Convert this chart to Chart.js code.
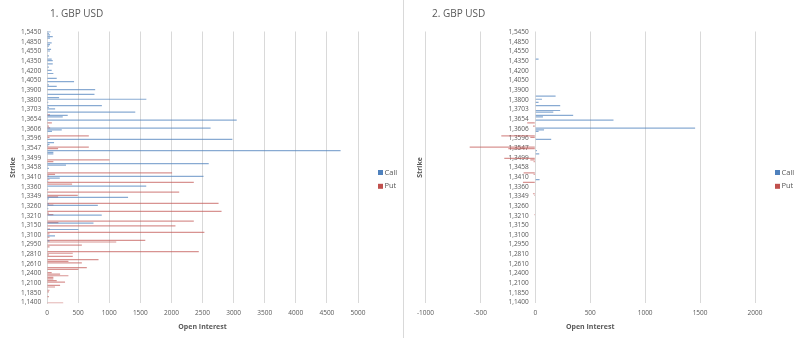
<!DOCTYPE html>
<html>
<head>
<meta charset="utf-8">
<script src="https://cdn.jsdelivr.net/npm/chart.js@4.4.0/dist/chart.umd.min.js"></script>
<style>
  html, body { margin: 0; padding: 0; background: #fff; }
  #wrap { position: relative; width: 800px; height: 338px; }
  .panel { position: absolute; top: 0; height: 338px; box-sizing: border-box; }
  #p1 { left: 0; width: 403px; }
  #p2 { left: 403px; width: 397px; border-left: 1px solid #d9d9d9; }
</style>
</head>
<body>
<div id="wrap">
  <div class="panel" id="p1"><canvas id="c1"></canvas></div>
  <div class="panel" id="p2"><canvas id="c2"></canvas></div>
</div>
<script>
// Strikes printed on the axis (top to bottom); 5 unlabeled strikes sit between each pair
const strikes = ['1,5450','1,4850','1,4550','1,4350','1,4200','1,4050','1,3900','1,3800','1,3703','1,3654',
  '1,3606','1,3596','1,3547','1,3499','1,3458','1,3410','1,3360','1,3349','1,3260','1,3210',
  '1,3150','1,3100','1,2950','1,2810','1,2610','1,2400','1,2100','1,1850','1,1400'];
const STEP = 6;

// 1. GBP USD - open interest, one row per line starting at a labeled strike
const call1 = [
  59,30,48,92,48,0,      0,75,48,30,0,65,      48,0,0,30,0,75,       92,0,92,0,30,0,
  75,0,102,0,0,156,      0,435,0,30,156,0,     774,0,0,763,0,194,    1597,0,20,0,882,30,
  130,0,1419,0,333,253,  0,3050,0,0,0,0,       2630,237,80,0,0,0,    0,2980,0,113,40,20,
  0,0,4720,102,102,0,    0,0,0,0,2600,305,     0,30,0,0,0,0,         2516,205,0,20,0,0,
  1595,0,20,0,0,0,       0,1303,30,0,0,30,     817,0,20,0,0,0,       880,0,0,0,0,747,
  0,0,0,505,0,0,         0,129,0,0,40,0,       0,0,0,0,0,0,          0,0,0,0,0,0,
  0,0,0,0,0,0,           0,0,0,0,0,0,          0,0,0,0,0,0,          0,0,0,0,0,0,
  0
];
const put1 = [
  0,0,0,0,0,0,           0,0,0,0,0,0,          0,0,0,0,0,0,          0,0,0,0,0,0,
  0,0,0,0,0,0,           0,0,0,0,0,0,          0,0,0,0,0,0,          0,0,0,0,0,0,
  0,0,0,48,0,0,          0,0,78,0,30,50,       0,0,0,0,672,40,       0,0,0,0,0,672,
  178,0,0,0,0,0,         0,1005,102,0,0,0,     0,0,0,2011,129,30,    0,40,0,2360,403,0,
  0,0,0,2125,0,495,      178,0,0,0,2758,102,   0,0,0,2806,30,102,    0,0,0,2360,183,0,
  2065,0,48,0,2530,40,   0,40,0,1580,1113,0,   560,40,0,0,2440,414,  30,414,0,828,344,560,
  0,0,640,505,0,75,      210,344,102,102,156,290, 0,210,129,0,40,30, 0,0,30,0,0,0,
  260
];

// 2. GBP USD - puts plotted as negative values
const call2 = [
  0,0,0,0,0,0,           0,0,0,0,0,0,          0,0,0,0,0,30,         0,0,0,0,0,0,
  0,0,0,0,0,0,           0,0,0,0,0,0,          0,0,0,0,185,0,        61,0,30,0,227,0,
  0,227,164,0,345,70,    0,712,0,0,0,0,        1455,80,30,0,0,0,     0,145,0,0,0,0,
  0,0,15,0,36,0,         0,0,0,0,0,0,          0,0,0,0,0,0,          0,0,39,0,0,0,
  0,0,0,0,0,0,           0,0,0,0,0,0,          0,0,0,0,0,0,          0,0,0,0,0,0,
  0,0,0,0,0,0,           0,0,0,0,0,0,          0,0,0,0,0,0,          0,0,0,0,0,0,
  0,0,0,0,0,0,           0,0,0,0,0,0,          0,0,0,0,0,0,          0,0,0,0,0,0,
  0
];
const put2 = [
  0,0,0,0,0,0,           0,0,0,0,0,0,          0,0,0,0,0,0,          0,0,0,0,0,0,
  0,0,0,0,0,0,           0,0,0,0,0,0,          0,0,0,0,0,0,          0,0,0,0,0,0,
  0,0,0,0,0,0,           0,0,-73,0,-20,0,      0,0,0,0,-309,-45,     0,0,0,0,0,-597,
  -245,0,0,0,0,0,        -282,-45,-15,0,0,0,   0,0,0,-106,-15,0,     0,0,0,-112,0,0,
  0,0,0,0,-21,-9,        0,0,0,0,0,0,          0,0,0,0,0,-9,         0,0,0,0,0,0,
  0,0,0,0,0,0,           0,0,0,0,0,0,          0,0,0,0,0,0,          0,0,0,0,0,0,
  0,0,0,0,0,0,           0,0,0,0,0,0,          0,0,0,0,0,0,          0,0,0,0,0,0,
  0
];

const categories = [];
strikes.forEach((s, i) => {
  categories.push(s);
  if (i < strikes.length - 1) for (let j = 1; j < STEP; j++) categories.push('');
});

const CALL_COLOR = '#4F81BD';
const PUT_COLOR = '#C0504D';
const TEXT = '#595959';
const GRID = '#d9d9d9';
const FONT = '"Open Sans", sans-serif';

// Panel title + legend drawn beside the plot, like the Excel sheet
const panelText = {
  id: 'panelText',
  afterDraw(chart, args, opts) {
    const { ctx, chartArea } = chart;
    ctx.save();
    ctx.textBaseline = 'middle';
    ctx.fillStyle = TEXT;
    ctx.font = '10px ' + FONT;
    ctx.fillText(opts.title, opts.titleX, 14.5);
    ctx.font = '7.5px ' + FONT;
    chart.data.datasets.forEach((ds, i) => {
      const y = 172.5 + i * 13.8;
      const x = chartArea.right + 20;
      ctx.fillStyle = ds.borderColor;
      ctx.fillRect(x, y - 2.5, 5, 5);
      ctx.fillStyle = TEXT;
      ctx.fillText(ds.label, x + 6.5, y);
    });
    ctx.restore();
  }
};

function datasets(call, put) {
  const bar = { barThickness: 1.2, inflateAmount: 0, borderWidth: 0 };
  return [
    { label: 'Call', data: call, backgroundColor: 'rgba(79,129,189,0.68)', borderColor: CALL_COLOR, ...bar },
    { label: 'Put', data: put, backgroundColor: 'rgba(192,80,77,0.62)', borderColor: PUT_COLOR, ...bar },
  ];
}

const tickFont = { family: FONT, size: 6.5 };
const titleFont = { family: FONT, size: 7, weight: 'bold' };

function xScale(min, max) {
  return {
    min, max,
    ticks: { stepSize: 500, font: tickFont, color: TEXT, padding: 5.6, callback: v => String(v) },
    grid: { color: GRID, drawTicks: false },
    border: { display: false },
    title: { display: true, text: 'Open Interest', font: titleFont, color: TEXT, padding: 0 },
  };
}

const layoutPad = (left) => ({ padding: { top: 31.5, right: 45, left, bottom: 7.3 } });

new Chart(document.getElementById('c1'), {
  type: 'bar',
  data: { labels: categories, datasets: datasets(call1, put1) },
  options: {
    indexAxis: 'y',
    responsive: true,
    maintainAspectRatio: false,
    animation: false,
    layout: layoutPad(5),
    plugins: {
      legend: { display: false },
      tooltip: { enabled: false },
      panelText: { title: '1. GBP USD', titleX: 50 },
    },
    scales: {
      x: xScale(0, 5000),
      y: {
        ticks: { autoSkip: false, font: tickFont, color: TEXT, padding: 2.5,
          callback: (v, i) => categories[i] ? categories[i] + '\u2002' : '' },
        grid: { display: false, drawTicks: false },
        border: { color: GRID },
        title: { display: true, text: 'Strike', font: titleFont, color: TEXT, padding: { top: 4.1, bottom: 1 } },
      },
    },
  },
  plugins: [panelText],
});

new Chart(document.getElementById('c2'), {
  type: 'bar',
  data: { labels: categories, datasets: datasets(call2, put2) },
  options: {
    indexAxis: 'y',
    responsive: true,
    maintainAspectRatio: false,
    animation: false,
    layout: layoutPad(8),
    plugins: {
      legend: { display: false },
      tooltip: { enabled: false },
      panelText: { title: '2. GBP USD', titleX: 28 },
    },
    scales: {
      x: xScale(-1000, 2000),
      y: {
        position: { x: 0 },
        ticks: { autoSkip: false, font: tickFont, color: TEXT,
          callback: (v, i) => categories[i] ? categories[i] + '\u2003' : '' },
        grid: { display: false, drawTicks: false },
        border: { display: false },
      },
      yTitle: {
        type: 'category',
        position: 'left',
        labels: categories,
        ticks: { display: false },
        grid: { display: false, drawTicks: false },
        border: { display: false },
        title: { display: true, text: 'Strike', font: titleFont, color: TEXT, padding: { top: 4, bottom: 1 } },
      },
    },
  },
  plugins: [panelText],
});
</script>
</body>
</html>
